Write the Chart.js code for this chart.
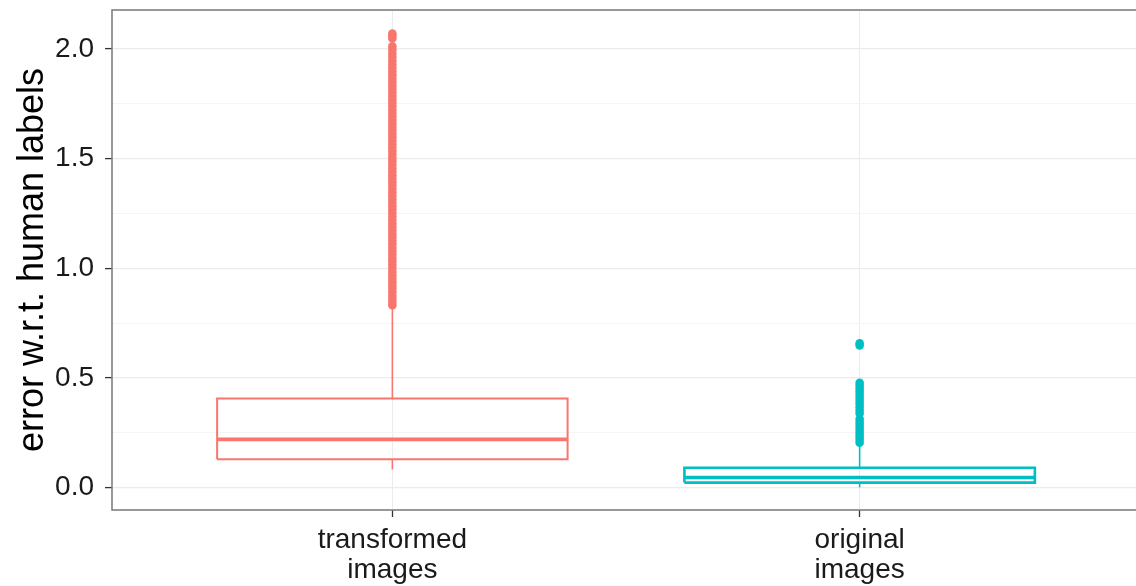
<!DOCTYPE html>
<html>
<head>
<meta charset="utf-8">
<script src="https://cdn.jsdelivr.net/npm/chart.js@4/dist/chart.umd.min.js"></script>
<style>
  html, body { margin: 0; padding: 0; background: #ffffff; overflow: hidden; }
  #wrap { position: absolute; left: 0; top: 0; width: 1148px; height: 586px; }
</style>
</head>
<body>
<div id="wrap"><canvas id="c" width="1148" height="586"></canvas></div>
<script>
// ---- data ----
const categories = ["transformed images", "original images"];
const q1 = [0.129, 0.023];
const median = [0.220, 0.046];
const q3 = [0.406, 0.091];
const whiskerLow = [0.083, 0.002];
const whiskerHigh = [0.825, 0.195];
const outliersTransformed = [
  0.832, 0.846, 0.861, 0.875, 0.892, 0.908, 0.921, 0.937, 0.953, 0.968,
  0.984, 1.001, 1.016, 1.032, 1.047, 1.063, 1.079, 1.094, 1.111, 1.126,
  1.142, 1.157, 1.173, 1.189, 1.205, 1.221, 1.236, 1.252, 1.268, 1.283,
  1.299, 1.315, 1.331, 1.346, 1.362, 1.378, 1.393, 1.409, 1.425, 1.441,
  1.456, 1.472, 1.488, 1.503, 1.519, 1.535, 1.551, 1.566, 1.582, 1.598,
  1.613, 1.629, 1.645, 1.661, 1.676, 1.692, 1.708, 1.723, 1.739, 1.755,
  1.771, 1.786, 1.802, 1.818, 1.833, 1.849, 1.865, 1.881, 1.897, 1.913,
  1.929, 1.945, 1.962, 1.978, 1.996, 2.012, 2.048, 2.062, 2.071
];
const outliersOriginal = [
  0.205, 0.218, 0.231, 0.245, 0.258, 0.272, 0.286, 0.299, 0.313,
  0.338, 0.352, 0.366, 0.381, 0.395, 0.409, 0.424, 0.438, 0.452,
  0.466, 0.478, 0.648, 0.658
];
const yMajorTicks = [0, 0.5, 1.0, 1.5, 2.0];
const yMinorTicks = [0.25, 0.75, 1.25, 1.75];
const yTickLabels = ["0.0", "0.5", "1.0", "1.5", "2.0"];
const seriesColors = ["#F8766D", "#00BFC4"];
const yTitle = "error w.r.t. human labels";

// ---- build datasets ----
const halfW = 0.375;
const outliers = [outliersTransformed, outliersOriginal];
const boxWidths = [2, 2.6];
const datasets = [];
categories.forEach((cat, i) => {
  const col = seriesColors[i];
  const line = { showLine: true, pointRadius: 0, borderColor: col, backgroundColor: col, fill: false, tension: 0 };
  datasets.push(Object.assign({}, line, { borderWidth: 1.6,
    data: [{x: i, y: q3[i]}, {x: i, y: whiskerHigh[i]}] }));
  datasets.push(Object.assign({}, line, { borderWidth: 1.6,
    data: [{x: i, y: q1[i]}, {x: i, y: whiskerLow[i]}] }));
  datasets.push(Object.assign({}, line, { borderWidth: boxWidths[i],
    data: [{x: i - halfW, y: q1[i]}, {x: i + halfW, y: q1[i]}, {x: i + halfW, y: q3[i]},
           {x: i - halfW, y: q3[i]}, {x: i - halfW, y: q1[i]}] }));
  datasets.push(Object.assign({}, line, { borderWidth: 3.6,
    data: [{x: i - halfW, y: median[i]}, {x: i + halfW, y: median[i]}] }));
  datasets.push({ showLine: false, pointRadius: 4.3, pointBorderWidth: 0,
    pointBackgroundColor: col, backgroundColor: col, borderColor: col,
    data: outliers[i].map(v => ({x: i, y: v})) });
});

const panelBorder = {
  id: 'panelBorder',
  afterDatasetsDraw(chart) {
    const a = chart.chartArea, ctx = chart.ctx;
    ctx.save();
    ctx.strokeStyle = '#7f7f7f';
    ctx.lineWidth = 1.6;
    ctx.strokeRect(a.left, a.top, a.right - a.left, a.bottom - a.top);
    ctx.restore();
  }
};

const allY = yMajorTicks.concat(yMinorTicks).sort((a, b) => a - b);

new Chart(document.getElementById('c'), {
  type: 'scatter',
  data: { datasets },
  plugins: [panelBorder],
  options: {
    responsive: false,
    animation: false,
    devicePixelRatio: 1,
    layout: { padding: { top: 10, right: 8, left: 0, bottom: 0 } },
    plugins: { legend: { display: false }, tooltip: { enabled: false } },
    scales: {
      x: {
        type: 'linear', min: -0.6, max: 1.6,
        afterBuildTicks: s => { s.ticks = categories.map((c, i) => ({ value: i })); },
        afterFit: s => { s.height = 76; s.paddingLeft = 0; s.paddingRight = 0; },
        border: { display: false },
        grid: { color: '#ececec', lineWidth: 1, drawTicks: true, tickLength: 7, tickColor: '#333333', tickWidth: 1.3 },
        ticks: {
          autoSkip: false, maxRotation: 0, padding: 8,
          color: '#1a1a1a',
          font: { family: "'Liberation Sans', Arial, sans-serif", size: 28, lineHeight: 1.07 },
          callback: (v) => { const c = categories[Math.round(v)]; return c ? c.split(' ') : ''; }
        }
      },
      y: {
        type: 'linear', min: -0.102, max: 2.178,
        afterBuildTicks: s => { s.ticks = allY.map(v => ({ value: v })); },
        afterFit: s => { s.width = 112; s.paddingTop = 0; s.paddingBottom = 0; },
        border: { display: false },
        grid: {
          drawTicks: true, tickLength: 7, tickWidth: 1.3,
          color: ctx => yMajorTicks.includes(ctx.tick.value) ? '#ebebeb' : '#f5f5f5',
          lineWidth: ctx => yMajorTicks.includes(ctx.tick.value) ? 1.2 : 1,
          tickColor: ctx => yMajorTicks.includes(ctx.tick.value) ? '#333333' : 'rgba(0,0,0,0)'
        },
        ticks: {
          autoSkip: false, padding: 11,
          color: '#1a1a1a',
          font: { family: "'Liberation Sans', Arial, sans-serif", size: 28 },
          callback: (v) => { const k = yMajorTicks.indexOf(v); return k >= 0 ? yTickLabels[k] : ''; }
        },
        title: {
          display: true, text: yTitle, color: '#000000',
          font: { family: "'Liberation Sans', Arial, sans-serif", size: 36 },
          padding: { top: 11, bottom: 0 }
        }
      }
    }
  }
});
</script>
</body>
</html>
